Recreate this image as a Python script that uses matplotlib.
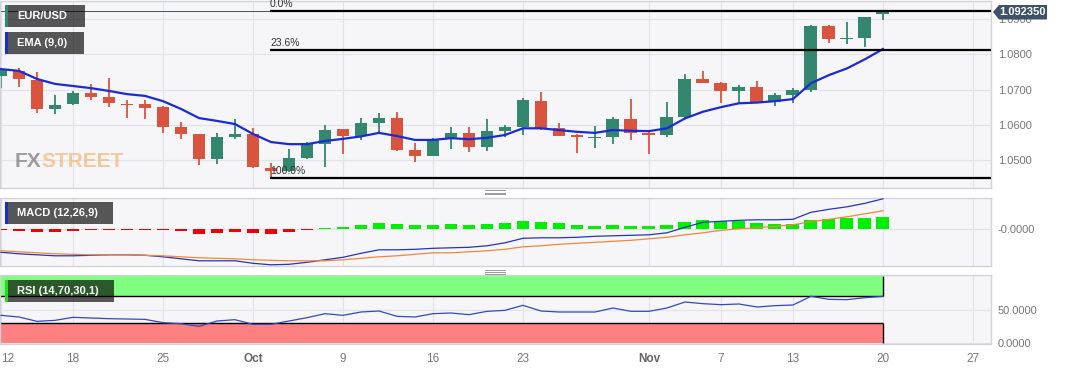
import matplotlib
matplotlib.use('Agg')
import matplotlib.pyplot as plt
from matplotlib.patches import Rectangle, Polygon
from matplotlib.lines import Line2D
from matplotlib import font_manager
import numpy as np
import pandas as pd

plt.rcParams['font.family'] = ['Liberation Sans', 'DejaVu Sans']

W, H = 1067, 370

# daily EUR/USD candles, Sep 12 - Nov 20 2023
dates = pd.bdate_range('2023-09-12', '2023-11-20')
opens = [1.0738, 1.0754, 1.0727, 1.0644, 1.0658, 1.0691, 1.0678, 1.0659, 1.0659, 1.0650,
         1.0593, 1.0573, 1.0504, 1.0566, 1.0573, 1.0476, 1.0470, 1.0505, 1.0545, 1.0587,
         1.0568, 1.0606, 1.0620, 1.0528, 1.0512, 1.0559, 1.0578, 1.0538, 1.0583, 1.0595,
         1.0668, 1.0590, 1.0571, 1.0563, 1.0566, 1.0615, 1.0576, 1.0571, 1.0621, 1.0730,
         1.0718, 1.0696, 1.0708, 1.0665, 1.0684, 1.0699, 1.0880, 1.0843, 1.0846, 1.0914]
highs = [1.0762, 1.0760, 1.0751, 1.0684, 1.0697, 1.0716, 1.0732, 1.0670, 1.0670, 1.0653,
         1.0609, 1.0575, 1.0578, 1.0616, 1.0592, 1.0491, 1.0531, 1.0552, 1.0599, 1.0587,
         1.0620, 1.0634, 1.0636, 1.0547, 1.0563, 1.0595, 1.0595, 1.0616, 1.0599, 1.0675,
         1.0694, 1.0606, 1.0574, 1.0597, 1.0623, 1.0673, 1.0580, 1.0665, 1.0744, 1.0753,
         1.0722, 1.0713, 1.0725, 1.0689, 1.0704, 1.0883, 1.0883, 1.0891, 1.0905, 1.0926]
lows = [1.0705, 1.0708, 1.0633, 1.0631, 1.0656, 1.0670, 1.0650, 1.0618, 1.0615, 1.0576,
        1.0560, 1.0487, 1.0489, 1.0559, 1.0478, 1.0448, 1.0465, 1.0502, 1.0481, 1.0517,
        1.0557, 1.0577, 1.0526, 1.0495, 1.0511, 1.0531, 1.0524, 1.0526, 1.0566, 1.0571,
        1.0585, 1.0568, 1.0521, 1.0535, 1.0545, 1.0557, 1.0517, 1.0566, 1.0618, 1.0718,
        1.0663, 1.0661, 1.0665, 1.0654, 1.0663, 1.0692, 1.0831, 1.0828, 1.0822, 1.0896]
closes = [1.0755, 1.0729, 1.0644, 1.0656, 1.0691, 1.0680, 1.0661, 1.0656, 1.0648, 1.0593,
          1.0574, 1.0504, 1.0566, 1.0573, 1.0479, 1.0470, 1.0505, 1.0547, 1.0585, 1.0568,
          1.0606, 1.0620, 1.0528, 1.0512, 1.0559, 1.0577, 1.0538, 1.0582, 1.0595, 1.0670,
          1.0590, 1.0568, 1.0564, 1.0566, 1.0615, 1.0578, 1.0571, 1.0621, 1.0730, 1.0719,
          1.0696, 1.0708, 1.0665, 1.0684, 1.0699, 1.0880, 1.0843, 1.0845, 1.0905, 1.09235]
ema9 = [1.0758, 1.0753, 1.0730, 1.0716, 1.0710, 1.0704, 1.0696, 1.0687, 1.0682, 1.0667,
        1.0645, 1.0619, 1.0611, 1.0602, 1.0574, 1.0551, 1.0545, 1.0545, 1.0554, 1.0560,
        1.0567, 1.0577, 1.0568, 1.0557, 1.0557, 1.0562, 1.0559, 1.0563, 1.0571, 1.0590,
        1.0590, 1.0585, 1.0580, 1.0577, 1.0585, 1.0583, 1.0582, 1.0590, 1.0618, 1.0637,
        1.0650, 1.0661, 1.0663, 1.0667, 1.0673, 1.0718, 1.0741, 1.0760, 1.0786, 1.0815]

macd_line = [-0.0046, -0.0049, -0.0051, -0.0053, -0.0053, -0.0052, -0.0051, -0.0051, -0.0052, -0.0055,
             -0.0059, -0.0063, -0.0063, -0.0063, -0.0068, -0.0071, -0.0070, -0.0066, -0.0061, -0.0056,
             -0.0048, -0.0041, -0.0041, -0.0040, -0.0038, -0.0037, -0.0036, -0.0033, -0.0027, -0.0018,
             -0.0017, -0.0017, -0.0016, -0.0014, -0.0013, -0.0012, -0.0011, -0.0007, 0.0004, 0.0014,
             0.0016, 0.0018, 0.0019, 0.0019, 0.0020, 0.0034, 0.0040, 0.0045, 0.0052, 0.0061]
signal_line = [-0.0043, -0.0045, -0.0047, -0.0049, -0.0050, -0.0051, -0.0051, -0.0051, -0.0052, -0.0053,
               -0.0055, -0.0057, -0.0058, -0.0059, -0.0061, -0.0062, -0.0063, -0.0063, -0.0063, -0.0061,
               -0.0058, -0.0055, -0.0053, -0.0050, -0.0047, -0.0047, -0.0045, -0.0043, -0.0040, -0.0035,
               -0.0033, -0.0030, -0.0028, -0.0026, -0.0024, -0.0022, -0.0019, -0.0016, -0.0011, -0.0007,
               -0.0002, 0.0001, 0.0003, 0.0006, 0.0009, 0.0015, 0.0020, 0.0025, 0.0031, 0.0037]
macd_hist = [-0.0002, -0.0004, -0.0005, -0.0005, -0.0004, -0.0002, -0.0001, -0.0001, -0.0001, -0.0002,
             -0.0003, -0.0009, -0.0007, -0.0006, -0.0007, -0.0009, -0.0006, -0.0001, 0.0003, 0.0005,
             0.0008, 0.0012, 0.0010, 0.0008, 0.0009, 0.0010, 0.0009, 0.0010, 0.0012, 0.0017,
             0.0014, 0.0012, 0.0009, 0.0007, 0.0009, 0.0007, 0.0006, 0.0008, 0.0014, 0.0018,
             0.0017, 0.0017, 0.0013, 0.0011, 0.0011, 0.0019, 0.0021, 0.0022, 0.0023, 0.0024]
rsi14 = [41.5, 39.0, 32.5, 34.0, 38.5, 37.5, 36.5, 36.0, 35.5, 30.5,
         29.0, 25.0, 33.0, 35.0, 28.0, 28.0, 33.0, 38.0, 44.0, 41.5,
         46.5, 48.0, 40.0, 39.0, 44.0, 45.0, 42.5, 47.5, 49.0, 56.5,
         48.0, 46.5, 46.5, 46.5, 52.5, 47.5, 47.5, 52.5, 61.5, 59.0,
         57.5, 58.5, 54.0, 56.0, 57.0, 70.0, 65.5, 65.0, 68.0, 70.0]

tick_dates = ['2023-09-12', '2023-09-18', '2023-09-25', '2023-10-02', '2023-10-09', '2023-10-16',
              '2023-10-23', '2023-11-01', '2023-11-07', '2023-11-13', '2023-11-20', '2023-11-27']
tick_labels = ['12', '18', '25', 'Oct', '9', '16', '23', 'Nov', '7', '13', '20', '27']

fib_labels = ['0.0%', '23.6%', '100.0%']
fib_prices = [1.0923, 1.0812, 1.0450]
fib_start = '2023-10-03'
last_price = 1.092350

GREEN = '#33876f'
RED = '#d9543f'
PANEL_BG = '#f6f6f8'
GRID = '#e2e2e8'
SPINE = '#d2d2da'
TICK = '#777777'


def fig_box(x0, y0, x1, y1):
    """pixel box (top-left origin) -> figure fraction rect"""
    return [x0 / W, 1 - y1 / H, (x1 - x0) / W, (y1 - y0) / H]


def _style_panel(a):
    a.set_facecolor(PANEL_BG)
    for s in a.spines.values():
        s.set_color(SPINE)
        s.set_linewidth(1)
    a.grid(True, color=GRID, linewidth=0.8, zorder=0)
    a.set_axisbelow(True)
    a.yaxis.tick_right()
    a.tick_params(axis='both', length=0, labelsize=8, labelcolor=TICK)
    a.tick_params(axis='y', pad=5.3)


def _label_box(x0, y0, x1, y1, stripe, text):
    fig.add_artist(Rectangle((x0 / W, 1 - y1 / H), (x1 - x0) / W, (y1 - y0) / H,
                             transform=fig.transFigure, facecolor='black', alpha=0.65,
                             linewidth=0, zorder=10))
    fig.add_artist(Rectangle((x0 / W, 1 - y1 / H), 2.5 / W, (y1 - y0) / H,
                             transform=fig.transFigure, facecolor=stripe,
                             linewidth=0, zorder=11))
    fig.text(17 / W, 1 - (y0 + y1) / 2 / H, text, color='white', fontsize=8,
             fontweight='bold', va='center', ha='left', zorder=12)


x = np.arange(len(dates))
o = np.array(opens)
c = np.array(closes)
tick_pos = np.busday_count('2023-09-12', tick_dates)
fib_x = np.busday_count('2023-09-12', fib_start)

fig = plt.figure(figsize=(W / 100, H / 100), dpi=100)
fig.patch.set_facecolor('white')

ax = fig.add_axes(fig_box(0, 1, 990.6, 188.3))
ax_macd = fig.add_axes(fig_box(0, 197.7, 990.6, 266), sharex=ax)
ax_rsi = fig.add_axes(fig_box(0, 275.3, 990.6, 343.7), sharex=ax)
for a in (ax, ax_macd, ax_rsi):
    _style_panel(a)

x_lo, x_hi = -0.056, 54.98
ax.set_xlim(x_lo, x_hi)

# --- price panel
colors = np.where(c >= o, GREEN, RED)
ax.vlines(x, lows, highs, colors=colors, linewidth=1.3, zorder=2)
ax.bar(x, np.maximum(np.abs(c - o), 0.0003), bottom=np.minimum(o, c), width=0.72,
       color=colors, linewidth=0, zorder=3)
ax.plot(x, ema9, color='#1a2bd6', linewidth=1.6, zorder=4)
ax.axhline(last_price, color='#3e5166', linewidth=0.7, zorder=1.5)

for p, lab in zip(fib_prices, fib_labels):
    ax.hlines(p, fib_x - 0.05, x_hi, color='black', linewidth=1.6, zorder=5)
    ax.annotate(lab, (fib_x - 0.05, p), xytext=(0, 1.2), textcoords='offset points',
                ha='left', va='bottom', fontsize=7.5, color='#333333', zorder=6)

ax.set_ylim(1.04197, 1.09513)
ax.set_yticks([1.05, 1.06, 1.07, 1.08, 1.09])
ax.set_yticklabels(['%.4f' % v for v in [1.05, 1.06, 1.07, 1.08, 1.09]])
ax.tick_params(axis='x', labelbottom=False)

# --- MACD panel
hist_colors = ['#00ee00' if v >= 0 else '#ee0000' for v in macd_hist]
ax_macd.bar(x, macd_hist, width=0.72, color=hist_colors, linewidth=0, zorder=2)
ax_macd.plot(x, macd_line, color='#2436b8', linewidth=0.9, zorder=3)
ax_macd.plot(x, signal_line, color='#f0883a', linewidth=0.9, zorder=3)
ax_macd.set_ylim(-0.00734, 0.00632)
ax_macd.set_yticks([0])
ax_macd.set_yticklabels(['-0.0000'])
ax_macd.tick_params(axis='x', labelbottom=False)

# --- RSI panel
last = x[-1]
ax_rsi.fill_between([x_lo, last], 70, 100, color='#80ff80', linewidth=0, zorder=1)
ax_rsi.fill_between([x_lo, last], 0, 30, color='#ff8080', linewidth=0, zorder=1)
ax_rsi.hlines([70, 30], x_lo, last, color='black', linewidth=1, zorder=2)
ax_rsi.vlines(last, 70, 100, color='black', linewidth=1, zorder=2)
ax_rsi.vlines(last, 0, 30, color='black', linewidth=1, zorder=2)
ax_rsi.plot(x, rsi14, color='#3448c0', linewidth=0.9, zorder=3)
ax_rsi.set_ylim(-1, 101.5)
ax_rsi.set_yticks([0, 50])
ax_rsi.set_yticklabels(['0.0000', '50.0000'])

ax_rsi.set_xticks(tick_pos)
ax_rsi.set_xticklabels(tick_labels)
ax_rsi.tick_params(axis='x', pad=6.5, labelsize=8.5)
for t in ax_rsi.get_xticklabels():
    if t.get_text() in ('Oct', 'Nov'):
        t.set_fontweight('bold')
        t.set_color('#666666')
ax_rsi.get_xticklabels()[0].set_horizontalalignment('left')

# --- overlays: legend boxes, watermark, price tag, pane handles
_label_box(5, 5, 85, 27, '#2e8b72', 'EUR/USD')
_label_box(5, 32, 84, 54, '#1a2bd6', 'EMA (9,0)')
_label_box(5, 202, 113, 224, '#1a2bd6', 'MACD (12,26,9)')
_label_box(5, 280, 114, 302, '#22dd22', 'RSI (14,70,30,1)')

# watermark: pick a narrow face if present, size it to span x 15..124
installed = {f.name for f in font_manager.fontManager.ttflist}
wm_family = 'Liberation Sans Narrow' if 'Liberation Sans Narrow' in installed else 'Liberation Sans'
renderer = fig.canvas.get_renderer()
probe = fig.text(0, 0, 'FXSTREET', family=wm_family, fontweight='bold', fontsize=20)
wm_size = 20 * 109 / probe.get_window_extent(renderer).width
probe.remove()
fx = fig.text(15 / W, 1 - 167 / H, 'FX', family=wm_family, fontweight='bold', fontsize=wm_size,
              color='#8c8c8c', alpha=0.85, ha='left', va='baseline')
fx_right = fx.get_window_extent(renderer).x1
fig.text(fx_right / W, 1 - 167 / H, 'STREET', family=wm_family, fontweight='bold',
         fontsize=wm_size, color='#f3c08a', alpha=0.85, ha='left', va='baseline')

tag = [(993, 12), (999, 5), (1047, 5), (1047, 19.5), (999, 19.5)]
fig.add_artist(Polygon([(px / W, 1 - py / H) for px, py in tag], closed=True,
                       transform=fig.transFigure, facecolor='#3e5166', edgecolor='none', zorder=10))
fig.text(1022 / W, 1 - 12.3 / H, '%.6f' % last_price, color='white', fontsize=8,
         fontweight='bold', ha='center', va='center', zorder=11)

for yy in (190.5, 192.5, 194.5, 269.5, 271.5, 273.5):
    fig.add_artist(Line2D([485 / W, 505 / W], [1 - yy / H, 1 - yy / H],
                          transform=fig.transFigure, color='#999999', linewidth=0.7))

fig.savefig('out.png', dpi=100, facecolor=fig.get_facecolor())
plt.close(fig)
